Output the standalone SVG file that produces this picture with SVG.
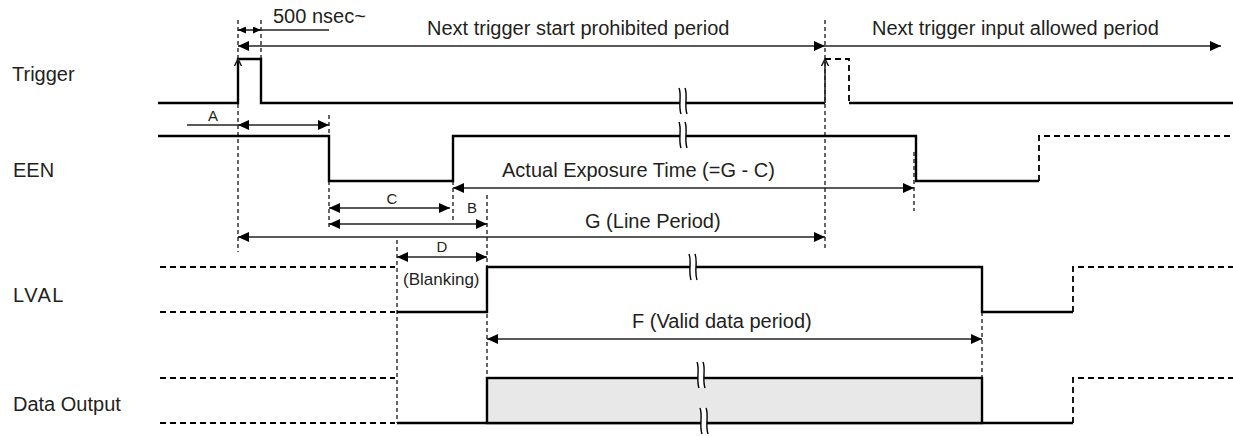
<svg xmlns="http://www.w3.org/2000/svg" width="1233" height="436" viewBox="0 0 1233 436">
<style>
.sig{fill:none;stroke:#000;stroke-width:2.4;stroke-linejoin:miter}
.sigd{fill:none;stroke:#000;stroke-width:1.8;stroke-dasharray:6 4}
.guide{fill:none;stroke:#000;stroke-width:1.2;stroke-dasharray:4 3}
.arr{fill:none;stroke:#222;stroke-width:1.6;marker-start:url(#ah);marker-end:url(#ah)}
.arr1{fill:none;stroke:#222;stroke-width:1.6;marker-end:url(#ah)}
.arrs{fill:none;stroke:#222;stroke-width:1.6;marker-start:url(#ahs);marker-end:url(#ahs)}
.ln{fill:none;stroke:#222;stroke-width:1.6}
text{font-family:"Liberation Sans",Arial,Helvetica,sans-serif;fill:#231f20}
.t{font-size:20px}
.s{font-size:15px}
.b{font-size:17px}
.lbl{font-size:20px}
.brkf{fill:#fff;stroke:none}
.brkl{fill:none;stroke:#000;stroke-width:1.4}
</style>
<defs>
<marker id="ah" markerUnits="userSpaceOnUse" markerWidth="11" markerHeight="10" refX="11" refY="5" orient="auto-start-reverse"><path d="M0,0 L11,5 L0,10 Z" fill="#000"/></marker>
<marker id="ahs" markerUnits="userSpaceOnUse" markerWidth="8" markerHeight="7" refX="8" refY="3.5" orient="auto-start-reverse"><path d="M0,0 L8,3.5 L0,7 Z" fill="#000"/></marker>
<g id="brk">
<path class="brkf" d="M-4,-13 C-1,-6 -5,5 -2,13 L4,13 C1,5 5,-6 2,-13 Z"/>
<path class="brkl" d="M-4,-13 C-1,-6 -5,5 -2,13"/>
<path class="brkl" d="M2,-13 C5,-6 1,5 4,13"/>
</g>
</defs>
<rect width="1233" height="436" fill="#fff"/>

<g id="guides">
<path class="guide" d="M238,20 V252"/>
<path class="guide" d="M261,20 V59"/>
<path class="guide" d="M329,115 V136 M329,181 V230"/>
<path class="guide" d="M453,181 V220"/>
<path class="guide" d="M487,195 V423"/>
<path class="guide" d="M397,240 V423"/>
<path class="guide" d="M825,20 V250"/>
<path class="guide" d="M914,152 V211"/>
<path class="guide" d="M982,312 V378"/>
</g>

<g id="trigger">
<text class="lbl" x="12" y="81">Trigger</text>
<path class="sig" d="M158,103 H238 V59 H261 V103 H825"/>
<path class="ln" d="M234.5,66 L238,59 L241.5,66"/>
<path class="ln" d="M825,103 V59"/>
<path class="ln" d="M821.5,66 L825,59 L828.5,66"/>
<path class="sigd" d="M825,59 H849 V103"/>
<path class="sig" d="M849,103 H1233"/>
<use href="#brk" x="683" y="101"/>
</g>

<g id="een">
<text class="lbl" x="13" y="177">EEN</text>
<path class="sig" d="M158,136 H329 V181 H453 V136 H916 V181 H1039"/>
<path class="sigd" d="M1039,181 V136 H1233"/>
<use href="#brk" x="683" y="135"/>
</g>

<g id="lval">
<text class="lbl" x="13" y="302" letter-spacing="1.5">LVAL</text>
<path class="sigd" d="M160,267 H395 M160,312 H395"/>
<path class="sig" d="M397,312 H487 V267 H982 V312 H1073"/>
<path class="sigd" d="M1073,312 V267 H1233"/>
<use href="#brk" x="693" y="267"/>
</g>

<g id="data-output">
<text class="lbl" x="13" y="411">Data Output</text>
<path class="sigd" d="M160,378 H395 M160,423 H395"/>
<path class="sig" d="M397,423 H1073"/>
<rect x="487" y="378" width="495" height="45" fill="#e8e8e8" stroke="#000" stroke-width="2.4"/>
<path class="sigd" d="M1073,423 V378 H1233"/>
<use href="#brk" x="701" y="375"/>
<use href="#brk" x="704" y="421"/>
</g>

<g id="connectors">
<path class="arrs" d="M238,30 H261"/>
<path class="ln" d="M261,30 H329"/>
<path class="arr" d="M238,46 H825"/>
<path class="arr1" d="M825,46 H1221"/>
<path class="ln" d="M187,125 H238"/>
<path class="arr" d="M238,125 H329"/>
<path class="arr" d="M453,188 H914"/>
<path class="arr" d="M329,208 H450"/>
<path class="arr" d="M329,224 H487"/>
<path class="arr" d="M238,237 H825"/>
<path class="arr" d="M397,257 H487"/>
<path class="arr" d="M487,339 H982"/>
</g>

<g id="labels">
<text class="t" x="273" y="23">500 nsec~</text>
<text class="t" x="427" y="35">Next trigger start prohibited period</text>
<text class="t" x="872" y="35">Next trigger input allowed period</text>
<text class="s" x="213" y="121" text-anchor="middle">A</text>
<text class="s" x="392" y="204" text-anchor="middle">C</text>
<text class="s" x="472" y="213" text-anchor="middle">B</text>
<text class="s" x="442" y="252" text-anchor="middle">D</text>
<text class="b" x="403" y="285">(Blanking)</text>
<text class="t" x="502" y="177">Actual Exposure Time (=G - C)</text>
<text class="t" x="585" y="228">G (Line Period)</text>
<text class="t" x="632" y="328">F (Valid data period)</text>
</g>
</svg>
